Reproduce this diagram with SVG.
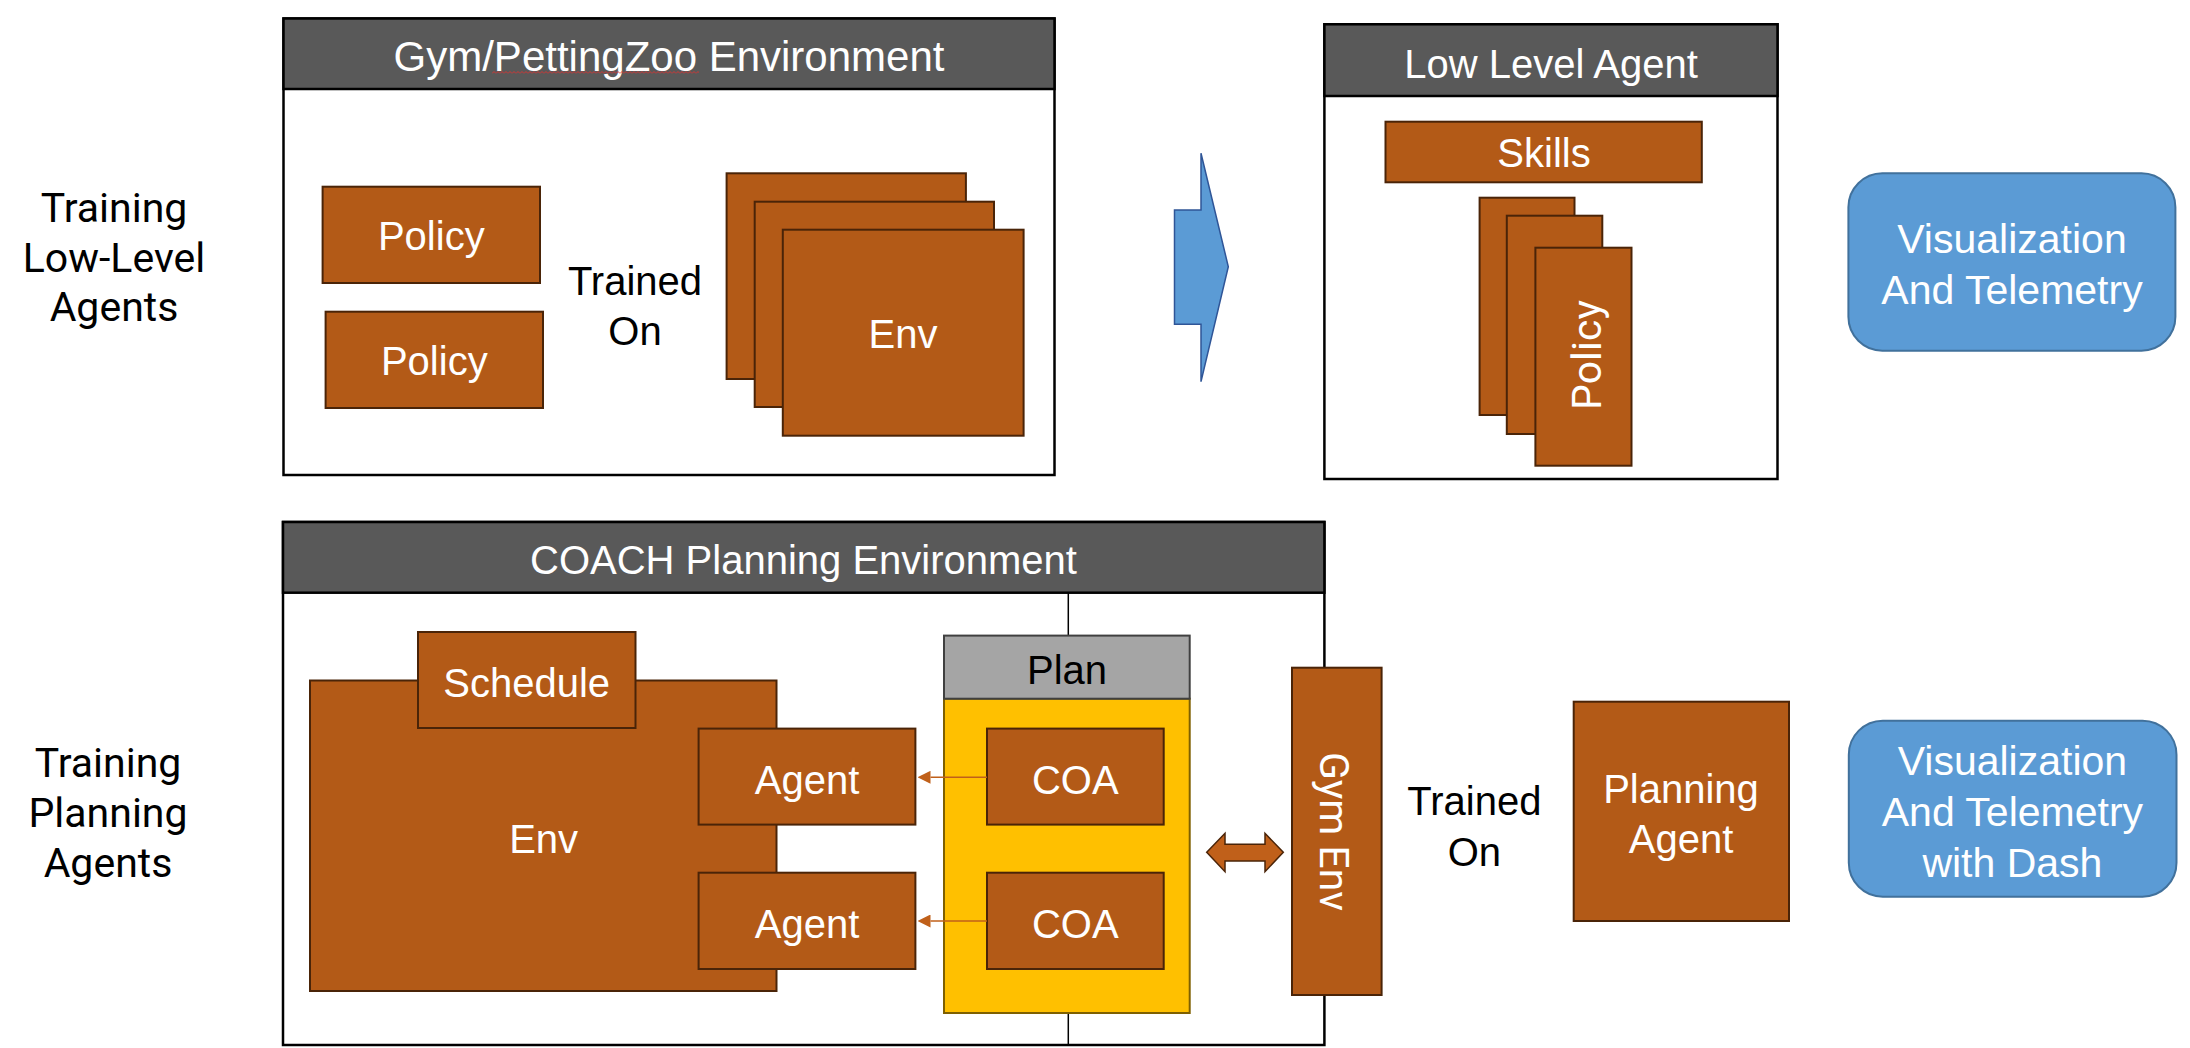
<svg xmlns="http://www.w3.org/2000/svg" width="2190" height="1048" viewBox="0 0 2190 1048">
<style>
.frame{fill:#fff;stroke:#000;stroke-width:2.5}
.hdr{fill:#595959;stroke:#000;stroke-width:2.5}
.br{fill:#B35A17;stroke:#4A2408;stroke-width:2}
.blue{fill:#5B9BD5;stroke:#41719C;stroke-width:2}
.t{font-family:"Liberation Sans",Arial,sans-serif;font-size:40px;text-anchor:middle}
.w{fill:#fff}
.k{fill:#000}
.hd{font-size:42px}
.r{font-family:Roboto,"Liberation Sans",sans-serif;font-size:41px;text-anchor:middle}
</style>
<defs>
<pattern id="squig" width="4" height="3" patternUnits="userSpaceOnUse" x="492" y="71">
<path d="M0 2.5 L2 0.5 L4 2.5" fill="none" stroke="#E03030" stroke-width="0.9"/>
</pattern>
<marker id="ah" viewBox="0 0 10 10" refX="0" refY="5" markerWidth="13" markerHeight="13" markerUnits="userSpaceOnUse" orient="auto-start-reverse">
<path d="M0 0 L10 5 L0 10 Z" fill="#C0601A"/>
</marker>
</defs>
<rect width="2190" height="1048" fill="#fff"/>

<g id="label-low">
<text class="r k" x="114" y="222">Training</text>
<text class="r k" x="114" y="272">Low-Level</text>
<text class="r k" x="114" y="321">Agents</text>
</g>
<g id="label-plan">
<text class="r k" x="108" y="777">Training</text>
<text class="r k" x="108" y="827">Planning</text>
<text class="r k" x="108" y="877">Agents</text>
</g>

<g id="gym-env-box">
<rect class="frame" x="283.5" y="18.5" width="771" height="456.5"/>
<rect class="hdr" x="283.5" y="18.5" width="771" height="70.5"/>
<text class="t w hd" x="669" y="71">Gym/PettingZoo Environment</text>
<rect x="492" y="71" width="207" height="3" fill="url(#squig)"/>
</g>
<g id="policy-1">
<rect class="br" x="322.6" y="186.7" width="217.4" height="96.3"/>
<text class="t w" x="431.3" y="250">Policy</text>
</g>
<g id="policy-2">
<rect class="br" x="325.6" y="311.7" width="217.4" height="96.3"/>
<text class="t w" x="434.3" y="375">Policy</text>
</g>
<g id="trained-on-1">
<text class="t k" x="635" y="295">Trained</text>
<text class="t k" x="635" y="345">On</text>
</g>
<g id="env-stack">
<rect class="br" x="726.6" y="173.3" width="239.3" height="205.7"/>
<rect class="br" x="754.7" y="201.7" width="239.3" height="205.3"/>
<rect class="br" x="782.8" y="229.7" width="240.8" height="206"/>
<text class="t w" x="903" y="348">Env</text>
</g>

<g id="big-arrow">
<polygon points="1174.5,210 1201,210 1201,153.3 1228.3,266.7 1201,381.7 1201,324.3 1174.5,324.3" fill="#5B9BD5" stroke="#2F5597" stroke-width="1.5"/>
</g>

<g id="low-level-agent">
<rect class="frame" x="1324.4" y="24.3" width="453.1" height="454.7"/>
<rect class="hdr" x="1324.4" y="24.3" width="453.1" height="71.7"/>
<text class="t w" x="1551" y="77.7">Low Level Agent</text>
</g>
<g id="skills">
<rect class="br" x="1385.5" y="121.7" width="316.3" height="60.6"/>
<text class="t w" x="1544" y="166.7">Skills</text>
</g>
<g id="policy-stack">
<rect class="br" x="1479.6" y="197.7" width="94.9" height="217.3"/>
<rect class="br" x="1506.8" y="215.7" width="95.5" height="218.3"/>
<rect class="br" x="1535.4" y="247.7" width="96.1" height="218"/>
<text class="r w" transform="translate(1601 355) rotate(-90)">Policy</text>
</g>

<g id="viz-1">
<rect class="blue" x="1848.4" y="173.3" width="327" height="177.4" rx="34" ry="34"/>
<text class="t w" x="2012" y="253.3" style="font-size:41px">Visualization</text>
<text class="t w" x="2012" y="304" style="font-size:41px">And Telemetry</text>
</g>

<g id="coach-env">
<rect class="frame" x="283" y="522" width="1041.4" height="523"/>
<rect class="hdr" x="283" y="522" width="1041.4" height="70.7"/>
<text class="t w" x="803.5" y="574.2">COACH Planning Environment</text>
<line x1="1068.3" y1="592.7" x2="1068.3" y2="1045" stroke="#000" stroke-width="1.5"/>
</g>
<g id="env-big">
<rect class="br" x="310" y="680.5" width="466.5" height="310.5"/>
<text class="t w" x="543.6" y="853">Env</text>
</g>
<g id="schedule">
<rect class="br" x="418" y="632" width="217.5" height="96"/>
<text class="t w" x="526.7" y="697">Schedule</text>
</g>
<g id="agent-1">
<rect class="br" x="698.6" y="728.6" width="216.8" height="96"/>
<text class="t w" x="807" y="794">Agent</text>
</g>
<g id="agent-2">
<rect class="br" x="698.6" y="872.7" width="216.8" height="96.3"/>
<text class="t w" x="807" y="938.2">Agent</text>
</g>
<g id="plan">
<rect x="944" y="698.7" width="245.7" height="314.3" fill="#FFC000" stroke="#7F6000" stroke-width="2"/>
<rect x="944" y="635.6" width="245.7" height="63.1" fill="#A5A5A5" stroke="#404040" stroke-width="2"/>
<text class="t k" x="1067" y="684">Plan</text>
</g>
<g id="coa-1">
<rect class="br" x="987" y="728.6" width="176.7" height="96"/>
<text class="t w" x="1075.3" y="794">COA</text>
</g>
<g id="coa-2">
<rect class="br" x="987" y="872.7" width="176.7" height="96.3"/>
<text class="t w" x="1075.3" y="938.2">COA</text>
</g>
<g id="gym-env-node">
<rect class="br" x="1292" y="667.7" width="89.6" height="327.3"/>
<text class="r w" transform="translate(1320 831.5) rotate(90)">Gym Env</text>
</g>
<g id="trained-on-2">
<text class="t k" x="1474.4" y="815">Trained</text>
<text class="t k" x="1474.4" y="866">On</text>
</g>
<g id="planning-agent">
<rect class="br" x="1573.7" y="701.7" width="215.3" height="219.3"/>
<text class="t w" x="1681" y="803.3">Planning</text>
<text class="t w" x="1681" y="853.3">Agent</text>
</g>
<g id="viz-2">
<rect class="blue" x="1848.8" y="720.7" width="327.7" height="176" rx="34" ry="34"/>
<text class="t w" x="2012.4" y="775" style="font-size:41px">Visualization</text>
<text class="t w" x="2012.4" y="826" style="font-size:41px">And Telemetry</text>
<text class="t w" x="2012.4" y="876.7" style="font-size:41px">with Dash</text>
</g>

<g id="connectors">
<line x1="987" y1="777.3" x2="930.5" y2="777.3" stroke="#C0601A" stroke-width="1.5" marker-end="url(#ah)"/>
<line x1="987" y1="921" x2="930.5" y2="921" stroke="#C0601A" stroke-width="1.5" marker-end="url(#ah)"/>
<polygon points="1206.7,852.3 1225,833.3 1225,844.3 1265,844.3 1265,833.3 1283.3,852.3 1265,871.7 1265,861 1225,861 1225,871.7" fill="#C0601A" stroke="#4A2408" stroke-width="1.5"/>
</g>
</svg>
